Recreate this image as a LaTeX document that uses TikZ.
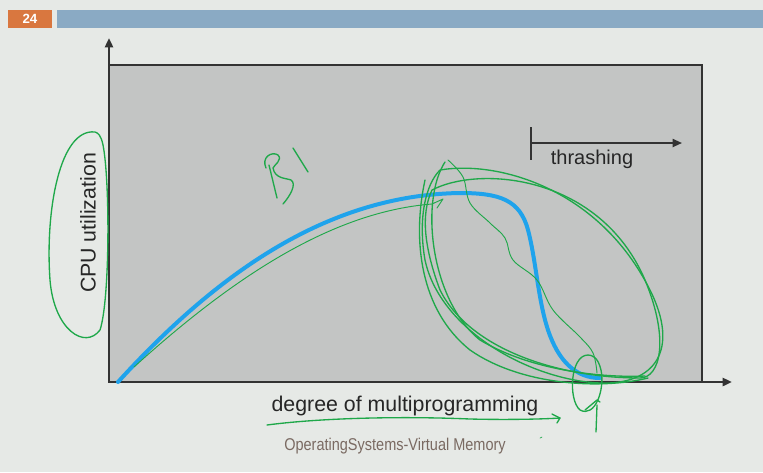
\documentclass[tikz,border=0pt]{standalone}
\usepackage{fontspec}
\setmainfont{Liberation Sans}
\usetikzlibrary{arrows.meta}
\definecolor{slidebg}{HTML}{E6E9E6}
\definecolor{numbox}{HTML}{D9773F}
\definecolor{barblue}{HTML}{8AAAC4}
\definecolor{plotgray}{HTML}{C3C5C4}
\definecolor{axisdark}{HTML}{333333}
\definecolor{curveblue}{HTML}{1FA3EC}
\definecolor{pen}{HTML}{1FA84A}
\definecolor{footer}{HTML}{7A6A62}
\tikzset{
  axis/.style={line width=1.8pt, draw=axisdark, -{Triangle[length=7pt,width=6pt]}},
  label/.style={inner sep=0pt, text=black!85, font=\fontsize{16}{19}\selectfont},
  ink/.style={draw=pen, line width=1pt, line cap=round, line join=round},
}
\begin{document}
\begin{tikzpicture}[x=0.75pt,y=-0.75pt]
\useasboundingbox (0,0) rectangle (763,472);
\fill[slidebg] (0,0) rectangle (763,472);
% header
\node[fill=numbox, minimum width=33pt, minimum height=13.5pt, inner sep=0pt, text=white, font=\bfseries\fontsize{10}{12}\selectfont] (num) at (30,19) {24};
\fill[barblue] (57,10) rectangle (763,28);
% plot area
\draw[fill=plotgray, draw=axisdark, line width=0.8pt] (109,65) rectangle (702,382);
\coordinate (o) at (109,382);
\coordinate (ytop) at (109,38);
\coordinate (xend) at (732,382);
\draw[axis] (o) -- (ytop);
\draw[axis] (o) -- (xend);
\node[label, rotate=90] (ylab) at (88,223) {CPU utilization};
\node[label] (xlab) at (405,406) {degree of multiprogramming};
\node[inner sep=0pt, text=footer, font=\fontsize{12.8}{14}\selectfont, xscale=0.85] (foot) at (395,446) {OperatingSystems-Virtual Memory};
% thrashing arrow
\coordinate (tk1) at (531,127);
\coordinate (tk2) at (531,160);
\coordinate (ta) at (531,143);
\coordinate (tb) at (682,143);
\draw[line width=1.4pt, draw=axisdark] (tk1) -- (tk2);
\draw[line width=1.4pt, draw=axisdark, -{Triangle[length=7pt,width=6pt]}] (ta) -- (tb);
\node[label, font=\fontsize{15}{17}\selectfont] (thr) at (592,159) {thrashing};
% blue curve
\draw[curveblue, line width=3pt, line cap=round] (118,382) .. controls (220,270) and (330,195) .. (460,193) .. controls (500,193) and (520,200) .. (528,230) .. controls (536,260) and (538,300) .. (548,330) .. controls (558,360) and (575,378) .. (600,378);
% green annotations
\draw[ink] (95,132) .. controls (60,128) and (45,210) .. (50,280) .. controls (54,330) and (85,350) .. (100,330) .. controls (110,300) and (110,180) .. (103,145) .. controls (101,135) and (98,133) .. (95,132);
% B1
\draw[ink] (266,168) .. controls (261,157) and (272,151) .. (278,155) .. controls (283,160) and (274,165) .. (273,168) .. controls (275,179) and (286,178) .. (291,180) .. controls (297,184) and (290,196) .. (283,204);
\draw[ink] (269,165) -- (277,198);
\draw[ink] (293,148) -- (308,172);
% green line under blue
\draw[ink, line width=0.7pt] (134,367) .. controls (230,280) and (330,212) .. (432,204);
\draw[ink, line width=0.7pt] (432,204) -- (443,199) -- (437,208);
% big loops
\draw[ink] (440,170) .. controls (500,160) and (600,190) .. (650,290) .. controls (680,350) and (655,385) .. (600,383) .. controls (530,380) and (440,330) .. (425,260) .. controls (418,220) and (425,185) .. (440,170);
\draw[ink] (432,190) .. controls (480,165) and (600,175) .. (645,280) .. controls (670,340) and (660,378) .. (640,378) .. controls (560,378) and (470,350) .. (440,290) .. controls (425,250) and (420,215) .. (432,190);
\draw[ink] (425,180) .. controls (412,240) and (420,310) .. (470,350) .. controls (520,385) and (600,390) .. (648,378);
\draw[ink] (445,162) .. controls (420,200) and (430,300) .. (480,340) .. controls (530,370) and (600,378) .. (645,376);
% wavy line
\draw[ink, line width=0.7pt] plot[smooth, tension=0.6] coordinates {(448,160) (463,177) (470,203) (490,223) (505,238) (513,260) (537,280) (553,310) (580,337) (593,353) (597,373)};
% small loop
\draw[ink] (588,355) .. controls (570,355) and (568,400) .. (580,410) .. controls (595,418) and (605,390) .. (601,370) .. controls (598,357) and (592,355) .. (588,355);
\draw[ink] (585,410) -- (597,400) -- (600,402);
\draw[ink] (597,405) -- (596,432);
% underline
\draw[ink] (267,425) .. controls (320,418) and (400,416) .. (470,419) .. controls (510,420) and (545,419) .. (560,418);
\draw[ink] (552,414) -- (560,418) -- (557,423);
\draw[ink, line width=0.5pt] (540,438) -- (542,437);
\end{tikzpicture}
\end{document}
